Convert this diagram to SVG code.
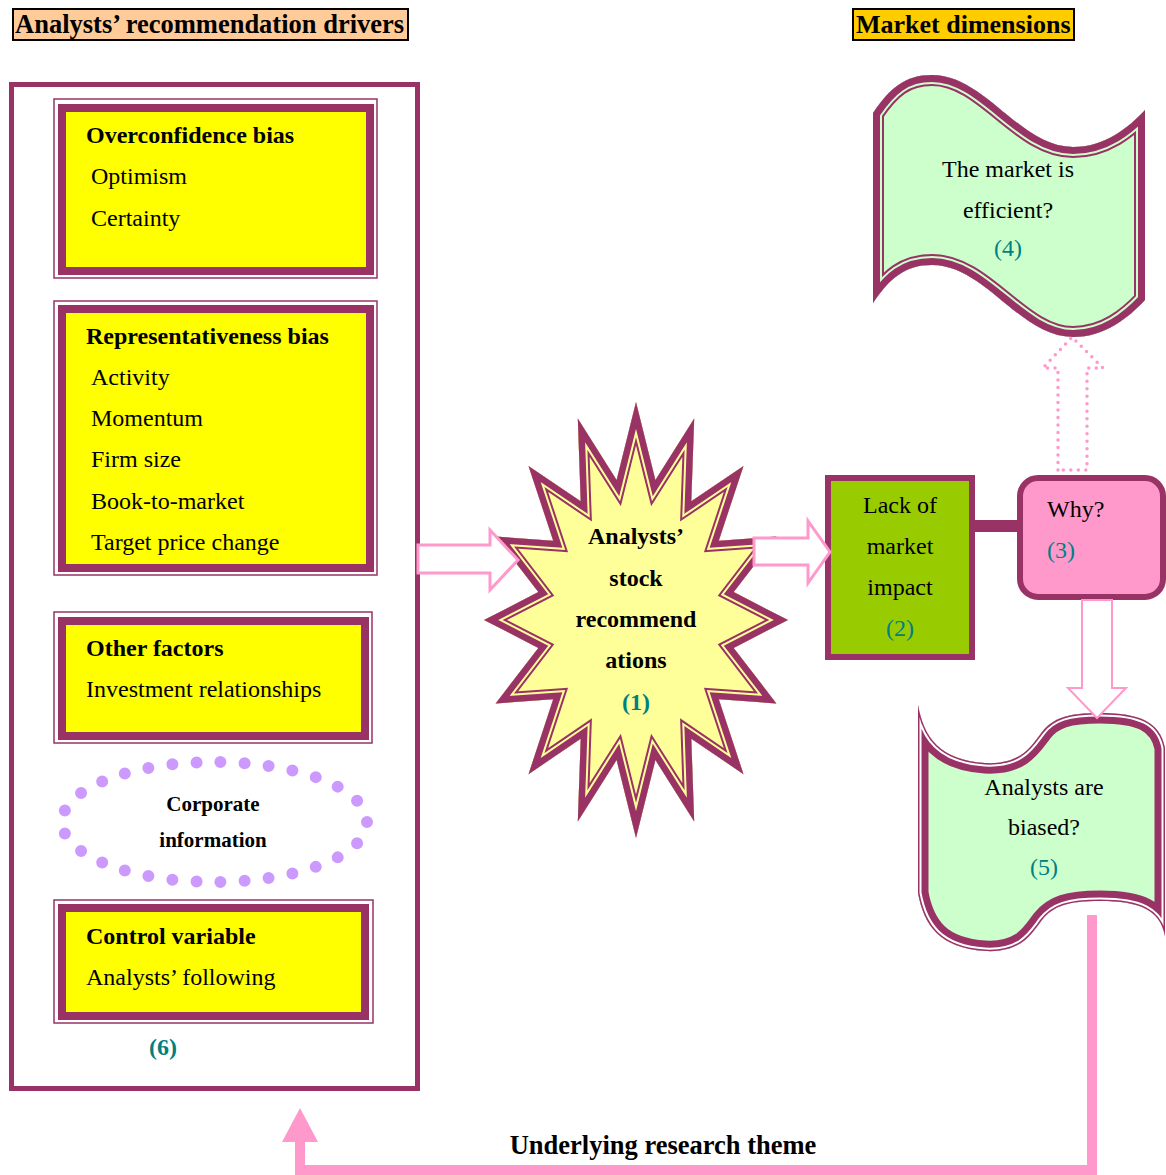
<svg xmlns="http://www.w3.org/2000/svg" xmlns:xlink="http://www.w3.org/1999/xlink" width="1166" height="1175" viewBox="0 0 1166 1175">
<style>
text{font-family:"Liberation Serif","Times New Roman",serif;fill:#000}
.b{font-weight:bold}
.t24{font-size:24px}
.teal{fill:#008080}
.mid{text-anchor:middle}
.thin{fill:none;stroke:#993366;stroke-width:1.5}
.thick{fill:#FFFF00;stroke:#993366;stroke-width:8}
.blk{fill:#FFFFFF;stroke:#FF99CC;stroke-width:3;stroke-linejoin:miter}
</style>
<defs>
<path id="starShape" d="M636,402 L655.4,479.9 L694.2,418.6 L691.3,501.3 L743.5,465.9 L718.8,540.7 L776.4,536.6 L733.7,592.1 L788,620 L733.7,647.9 L776.4,703.4 L718.8,699.3 L743.5,774.2 L691.3,738.7 L694.2,821.4 L655.4,760.1 L636,838 L616.6,760.1 L577.8,821.4 L580.7,738.7 L528.5,774.2 L553.2,699.3 L495.6,703.4 L538.3,647.9 L484,620 L538.3,592.1 L495.6,536.6 L553.2,540.7 L528.5,465.9 L580.7,501.3 L577.8,418.6 L616.6,479.9 Z"/>
<path id="wave4Shape" d="M873,113 C890,88 905,75 932,75 C985,75 1020,147 1073,147 C1105,147 1128,128 1145,110 L1145,300 C1128,318 1105,337 1073,337 C1020,337 985,265 932,265 C905,265 890,278 873,303 Z"/>
<path id="wave5Shape" d="M918,705 C924,738 940,760 985,763 C1022,765 1032,745 1042,732 C1053,718 1068,713 1100,713 C1140,713 1160,722 1165,748 L1165,936 C1160,910 1140,901 1100,901 C1068,901 1053,906 1042,920 C1032,933 1022,953 985,951 C940,948 924,926 918,893 Z"/>
<clipPath id="clipStar"><use xlink:href="#starShape"/></clipPath>
<clipPath id="clipW4"><use xlink:href="#wave4Shape"/></clipPath>
<clipPath id="clipW5"><use xlink:href="#wave5Shape"/></clipPath>
</defs>
<rect width="1166" height="1175" fill="#FFFFFF"/>

<g id="title-drivers">
<rect x="13" y="9" width="395" height="31" fill="#FFCC99" stroke="#000" stroke-width="2"/>
<text x="15" y="33" class="b" style="font-size:26.5px">Analysts’ recommendation drivers</text>
</g>
<g id="title-market">
<rect x="853" y="9" width="221" height="31" fill="#FFCC00" stroke="#000" stroke-width="2"/>
<text x="856" y="33" class="b" style="font-size:26px">Market dimensions</text>
</g>

<g id="drivers-panel">
<rect x="11.5" y="84.5" width="406" height="1004" fill="#FFFFFF" stroke="#993366" stroke-width="5"/>
</g>

<g id="overconfidence">
<rect x="54" y="99" width="323" height="179" class="thin"/>
<rect x="62" y="108" width="308" height="163" class="thick"/>
<text x="86" y="143" class="b t24">Overconfidence bias</text>
<text x="91" y="184" class="t24">Optimism</text>
<text x="91" y="226" class="t24">Certainty</text>
</g>

<g id="representativeness">
<rect x="54" y="301" width="323" height="274" class="thin"/>
<rect x="62" y="309" width="308" height="259" class="thick"/>
<text x="86" y="344" class="b t24">Representativeness bias</text>
<text x="91" y="385" class="t24">Activity</text>
<text x="91" y="426" class="t24">Momentum</text>
<text x="91" y="467" class="t24">Firm size</text>
<text x="91" y="509" class="t24">Book-to-market</text>
<text x="91" y="550" class="t24">Target price change</text>
</g>

<g id="other-factors">
<rect x="54" y="612" width="318" height="131" class="thin"/>
<rect x="62" y="621" width="303" height="115" class="thick"/>
<text x="86" y="656" class="b t24">Other factors</text>
<text x="86" y="697" class="t24">Investment relationships</text>
</g>

<g id="corporate-info">
<ellipse cx="214.5" cy="822" rx="152.5" ry="60" fill="none" stroke="#CC99FF" stroke-width="12" stroke-linecap="round" pathLength="29" stroke-dasharray="0 1"/>
<text x="213" y="811" class="b mid" style="font-size:21px">Corporate</text>
<text x="213" y="847" class="b mid" style="font-size:21px">information</text>
</g>

<g id="control-variable">
<rect x="54" y="900" width="319" height="123" class="thin"/>
<rect x="62" y="908" width="303" height="108" class="thick"/>
<text x="86" y="944" class="b t24">Control variable</text>
<text x="86" y="985" class="t24">Analysts’ following</text>
<text x="163" y="1055" class="b mid teal t24">(6)</text>
</g>

<g id="recommendations">
<use xlink:href="#starShape" fill="#FFFF99"/>
<g clip-path="url(#clipStar)" fill="none" stroke-linejoin="miter" stroke-miterlimit="20">
<use xlink:href="#starShape" stroke="#993366" stroke-width="21"/>
<use xlink:href="#starShape" stroke="#FFFF99" stroke-width="17"/>
<use xlink:href="#starShape" stroke="#993366" stroke-width="13"/>
</g>
<text x="636" y="544" class="b mid t24">Analysts’</text>
<text x="636" y="586" class="b mid t24">stock</text>
<text x="636" y="627" class="b mid t24">recommend</text>
<text x="636" y="668" class="b mid t24">ations</text>
<text x="636" y="710" class="b mid teal t24">(1)</text>
</g>

<g id="lack-of-impact">
<rect x="828" y="478" width="144" height="179" fill="#99CC00" stroke="#993366" stroke-width="6"/>
<text x="900" y="513" class="mid t24">Lack of</text>
<text x="900" y="554" class="mid t24">market</text>
<text x="900" y="595" class="mid t24">impact</text>
<text x="900" y="636" class="mid teal t24">(2)</text>
</g>

<g id="why">
<rect x="1020" y="478" width="143" height="119" rx="18" ry="18" fill="#FF99CC" stroke="#993366" stroke-width="6"/>
<text x="1047" y="517" class="t24">Why?</text>
<text x="1047" y="558" class="teal t24">(3)</text>
</g>

<g id="market-efficient">
<use xlink:href="#wave4Shape" fill="#CCFFCC"/>
<g clip-path="url(#clipW4)" fill="none" stroke-linejoin="miter" stroke-miterlimit="20">
<use xlink:href="#wave4Shape" stroke="#993366" stroke-width="22"/>
<use xlink:href="#wave4Shape" stroke="#CCFFCC" stroke-width="18"/>
<use xlink:href="#wave4Shape" stroke="#993366" stroke-width="14"/>
</g>
<text x="1008" y="177" class="mid t24">The market is</text>
<text x="1008" y="218" class="mid t24">efficient?</text>
<text x="1008" y="256" class="mid teal t24">(4)</text>
</g>

<g id="analysts-biased">
<use xlink:href="#wave5Shape" fill="#CCFFCC"/>
<g clip-path="url(#clipW5)" fill="none" stroke-linejoin="miter" stroke-miterlimit="20">
<use xlink:href="#wave5Shape" stroke="#993366" stroke-width="21"/>
<use xlink:href="#wave5Shape" stroke="#FFFFFF" stroke-width="7"/>
<use xlink:href="#wave5Shape" stroke="#993366" stroke-width="3"/>
</g>
<text x="1044" y="795" class="mid t24">Analysts are</text>
<text x="1044" y="835" class="mid t24">biased?</text>
<text x="1044" y="875" class="mid teal t24">(5)</text>
</g>

<g id="connectors">
<polygon class="blk" points="418,545 490,545 490,530 518,560 490,590 490,573 418,573"/>
<polygon class="blk" points="754,538 808,538 808,521 830,552 808,583 808,565 754,565"/>
<rect x="972" y="520" width="48" height="12" fill="#993366"/>
<polygon points="1058,470 1058,368 1043,368 1072,337 1103,368 1087,368 1087,470" fill="none" stroke="#FF99CC" stroke-width="3.5" stroke-linecap="round" stroke-dasharray="0 7.5"/>
<polygon points="1082,600 1082,688 1068,688 1097,718 1126,688 1112,688 1112,600" fill="#FFFFFF" stroke="#FF99CC" stroke-width="2"/>
<polyline points="1092,915 1092,1170 300,1170 300,1140" fill="none" stroke="#FF99CC" stroke-width="10" stroke-linejoin="miter"/>
<polygon points="300,1108 282,1142 318,1142" fill="#FF99CC"/>
<text x="663" y="1154" class="b mid" style="font-size:26.5px">Underlying research theme</text>
</g>
</svg>
